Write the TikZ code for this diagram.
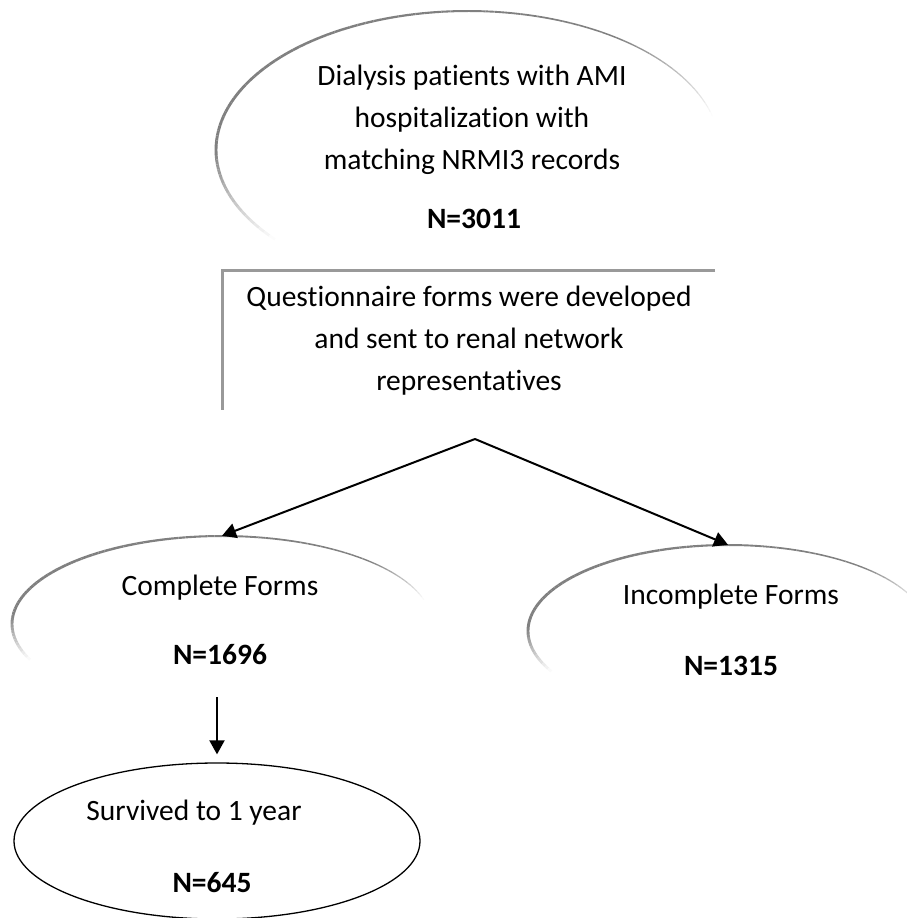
\documentclass[tikz,border=0pt]{standalone}
\usepackage{fontspec}
\setmainfont[Ligatures=NoCommon]{Carlito}
\usetikzlibrary{arrows.meta,shapes.geometric}
\newcommand\softarc[7]{%
  \pgfmathsetmacro\tnext{#5+2}%
  \foreach \t in {#5,\tnext,...,#6}{%
    \pgfmathsetmacro\fa{min(1,(\t-#5+1)/#7,(#6-\t+1)/#7)}%
    \pgfmathtruncatemacro\pc{round(50*\fa)}%
    \pgfmathsetmacro\lw{2.0-0.9*cos(\t)}%
    \draw[line width=\lw pt, black!\pc] ({#1+#3*cos(\t)},{#2-#4*sin(\t)}) -- ({#1+#3*cos(\t+2)},{#2-#4*sin(\t+2)});
  }}
\begin{document}
\begin{tikzpicture}[x=1pt,y=-1pt,
  txt/.style={font=\fontsize{29.5}{42}\selectfont, align=center, inner sep=0pt},
  num/.style={font=\fontsize{29.5}{34}\selectfont\bfseries, inner sep=0pt},
  arr/.style={line width=2pt, -{Triangle[length=14pt,width=15pt]}},
  shell/.style={ellipse, inner sep=0pt, draw=none},
  boxline/.style={line width=3pt, black!40}]
\useasboundingbox (0,0) rectangle (907,918);

% top soft ellipse
\node[shell, minimum width=504pt, minimum height=278pt] (top) at (468,150) {};
\softarc{468}{150}{252}{139}{14}{218}{40}
\node[txt] (toptxt) at (472,120) {Dialysis patients with AMI\\hospitalization with\\matching NRMI3 records};
\node[num] (topn) at (474,219) {N=3011};

% questionnaire box (top and left edges only)
\node[txt, minimum width=492pt, minimum height=139pt] (box) at (469,340.5)
  {Questionnaire forms were developed\\and sent to renal network\\representatives};
\draw[boxline] (box.north east) -- (box.north west) -- (box.south west);

% split
\coordinate (split) at (475,439);

% complete forms
\node[shell, minimum width=420pt, minimum height=176pt] (cf) at (222,624) {};
\softarc{222}{624}{210}{88}{16}{202}{30}
\node[txt] (cftxt) at (220,588) {Complete Forms};
\node[num] (cfn) at (220,655) {N=1696};

% incomplete forms
\node[shell, minimum width=400pt, minimum height=172pt] (icf) at (728,631) {};
\softarc{728}{631}{200}{86}{18}{206}{30}
\node[txt] (icftxt) at (731,597) {Incomplete Forms};
\node[num] (icfn) at (731,666) {N=1315};

\draw[arr] (split) -- (cf.north);
\draw[arr] (split) -- (icf.north);

% survived
\node[ellipse, draw, line width=1.3pt, inner sep=0pt, minimum width=406pt, minimum height=156pt] (surv) at (217,841) {};
\node[txt] (survtxt) at (194,813) {Survived to 1 year};
\node[num] (survn) at (212,883) {N=645};
\coordinate (dstart) at (217,697);
\draw[arr, shorten >=8pt] (dstart) -- (surv.north);
\end{tikzpicture}
\end{document}
